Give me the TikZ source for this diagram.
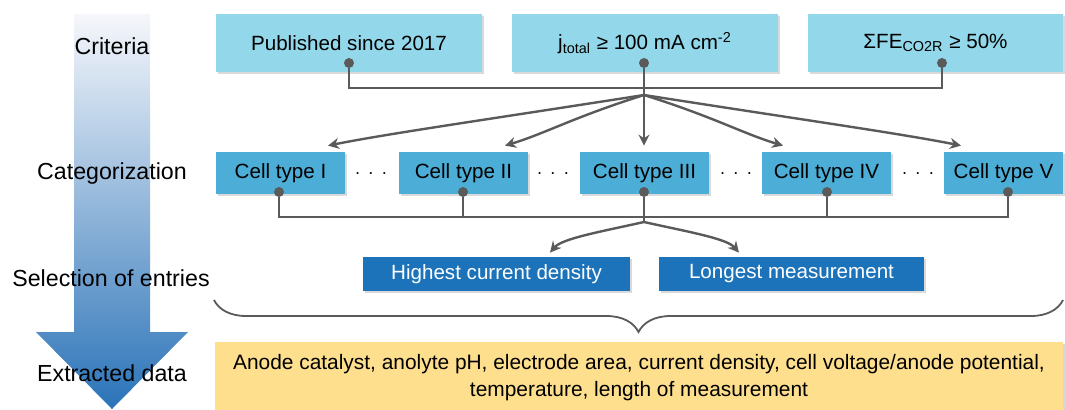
\documentclass[tikz,border=0pt]{standalone}
\usepackage{fontspec}
\setmainfont{Liberation Sans}
\usetikzlibrary{calc,shadows,arrows.meta,decorations.pathreplacing}
\definecolor{critcol}{HTML}{93D8EA}
\definecolor{cellcol}{HTML}{4CADD6}
\definecolor{selcol}{HTML}{1C73B9}
\definecolor{datacol}{HTML}{FEDF8E}
\definecolor{linecol}{HTML}{5A5A5A}
\definecolor{arrtop}{HTML}{F6F7FB}
\definecolor{arrbot}{HTML}{2A73B8}
\tikzset{
  box/.style={inner sep=0pt, align=center, font=\fontsize{10.3}{13.5}\selectfont,
    drop shadow={shadow xshift=1pt, shadow yshift=-1pt, opacity=.3}},
  critbox/.style={box, fill=critcol, minimum height=29pt},
  cellbox/.style={box, fill=cellcol, minimum width=64.5pt, minimum height=21pt},
  selbox/.style={box, fill=selcol, minimum height=17pt},
  databox/.style={box, fill=datacol, minimum width=424pt, minimum height=35.5pt,
    font=\fontsize{10.45}{13.5}\selectfont},
  steplabel/.style={font=\fontsize{11.6}{13}\selectfont},
  pin/.style={circle, fill=linecol, inner sep=0pt, minimum size=5pt},
  conn/.style={draw=linecol, line width=1.2pt},
  fan/.style={conn, -{Stealth[length=5.5pt,width=5.5pt]}}
}
\begin{document}
\begin{tikzpicture}[x=0.5pt,y=-0.5pt]
\useasboundingbox (0,0) rectangle (1065,409);
\shade[top color=arrtop, bottom color=arrbot]
  (74,14) -- (150,14) -- (150,332) -- (188,332) -- (112,409) -- (36,332) -- (74,332) -- cycle;
\node [steplabel] (lcrit) at (112,46) {Criteria};
\node [steplabel] (lcat) at (112,173) {Categorization};
\node [steplabel] (lsel) at (111,278) {Selection of entries};
\node [steplabel] (lext) at (112,373) {Extracted data};

\node [critbox, minimum width=133pt] (k1) at (349,43) {Published since 2017};
\node [critbox, minimum width=133pt] (k2) at (645,43) {j\textsubscript{total} ≥ 100 mA cm\textsuperscript{-2}};
\node [critbox, minimum width=127.5pt] (k3) at (935.5,43) {ΣFE\textsubscript{CO2R} ≥ 50\%};
\node [pin] (kp1) at (349,63) {};
\node [pin] (kp2) at (644,63) {};
\node [pin] (kp3) at (942,63) {};
\coordinate (hub1) at (644,88);
\coordinate (fan1) at (644,95);
\draw [conn] (kp1) |- (hub1) -| (kp3);
\draw [conn] (kp2) -- (hub1) -- (fan1);

\node [cellbox] (c1) at (280.5,173) {Cell type I};
\node [cellbox] (c2) at (463.5,173) {Cell type II};
\node [cellbox] (c3) at (644.5,173) {Cell type III};
\node [cellbox] (c4) at (826.5,173) {Cell type IV};
\node [cellbox, minimum width=59.5pt] (c5) at (1003.5,173) {Cell type V};
\node (g1) at (371,174) {$\cdot\,\cdot\,\cdot$};
\node (g2) at (553,174) {$\cdot\,\cdot\,\cdot$};
\node (g3) at (736,174) {$\cdot\,\cdot\,\cdot$};
\node (g4) at (918,174) {$\cdot\,\cdot\,\cdot$};
\draw [fan] (fan1) .. controls +(-160,25) and +(60,-12) .. ($(c1.north)+(47.5,-6)$);
\draw [fan] (fan1) .. controls +(-70,22) and +(40,-12) .. ($(c2.north)+(41.5,-6)$);
\draw [fan] (fan1) -- ($(c3.north)+(-0.5,-6)$);
\draw [fan] (fan1) .. controls +(70,22) and +(-40,-12) .. ($(c4.north)+(-43.5,-6)$);
\draw [fan] (fan1) .. controls +(160,25) and +(-60,-12) .. ($(c5.north)+(-42.5,-6)$);

\node [pin] (cp1) at (279,192) {};
\node [pin] (cp2) at (463,192) {};
\node [pin] (cp3) at (644,192) {};
\node [pin] (cp4) at (827,192) {};
\node [pin] (cp5) at (1008,192) {};
\coordinate (hub2) at (644,217);
\coordinate (fan2) at (644,222);
\draw [conn] (cp1) |- (hub2) -| (cp5);
\draw [conn] (cp2) -- ++(0,25);
\draw [conn] (cp4) -- ++(0,25);
\draw [conn] (cp3) -- (hub2) -- (fan2);

\node [selbox, minimum width=133.5pt, text=white] (s1) at (496.5,274) {Highest current density};
\node [selbox, minimum width=132.5pt, text=white] (s2) at (791.5,274) {Longest measurement};
\draw [fan] (fan2) .. controls +(-45,10) and +(12,-14) .. ($(s1.north)+(53.5,-4)$);
\draw [fan] (fan2) .. controls +(45,10) and +(-12,-14) .. ($(s2.north)+(-52.5,-4)$);

\coordinate (br1) at (1063,300);
\coordinate (br2) at (214,300);
\draw [draw=linecol, line width=0.9pt, decorate, decoration={brace, amplitude=16pt}] (br1) -- (br2);

\node [databox] (ext) at (639,377.5) {Anode catalyst, anolyte pH, electrode area, current density, cell voltage/anode potential,\\temperature, length of measurement};
\end{tikzpicture}
\end{document}
